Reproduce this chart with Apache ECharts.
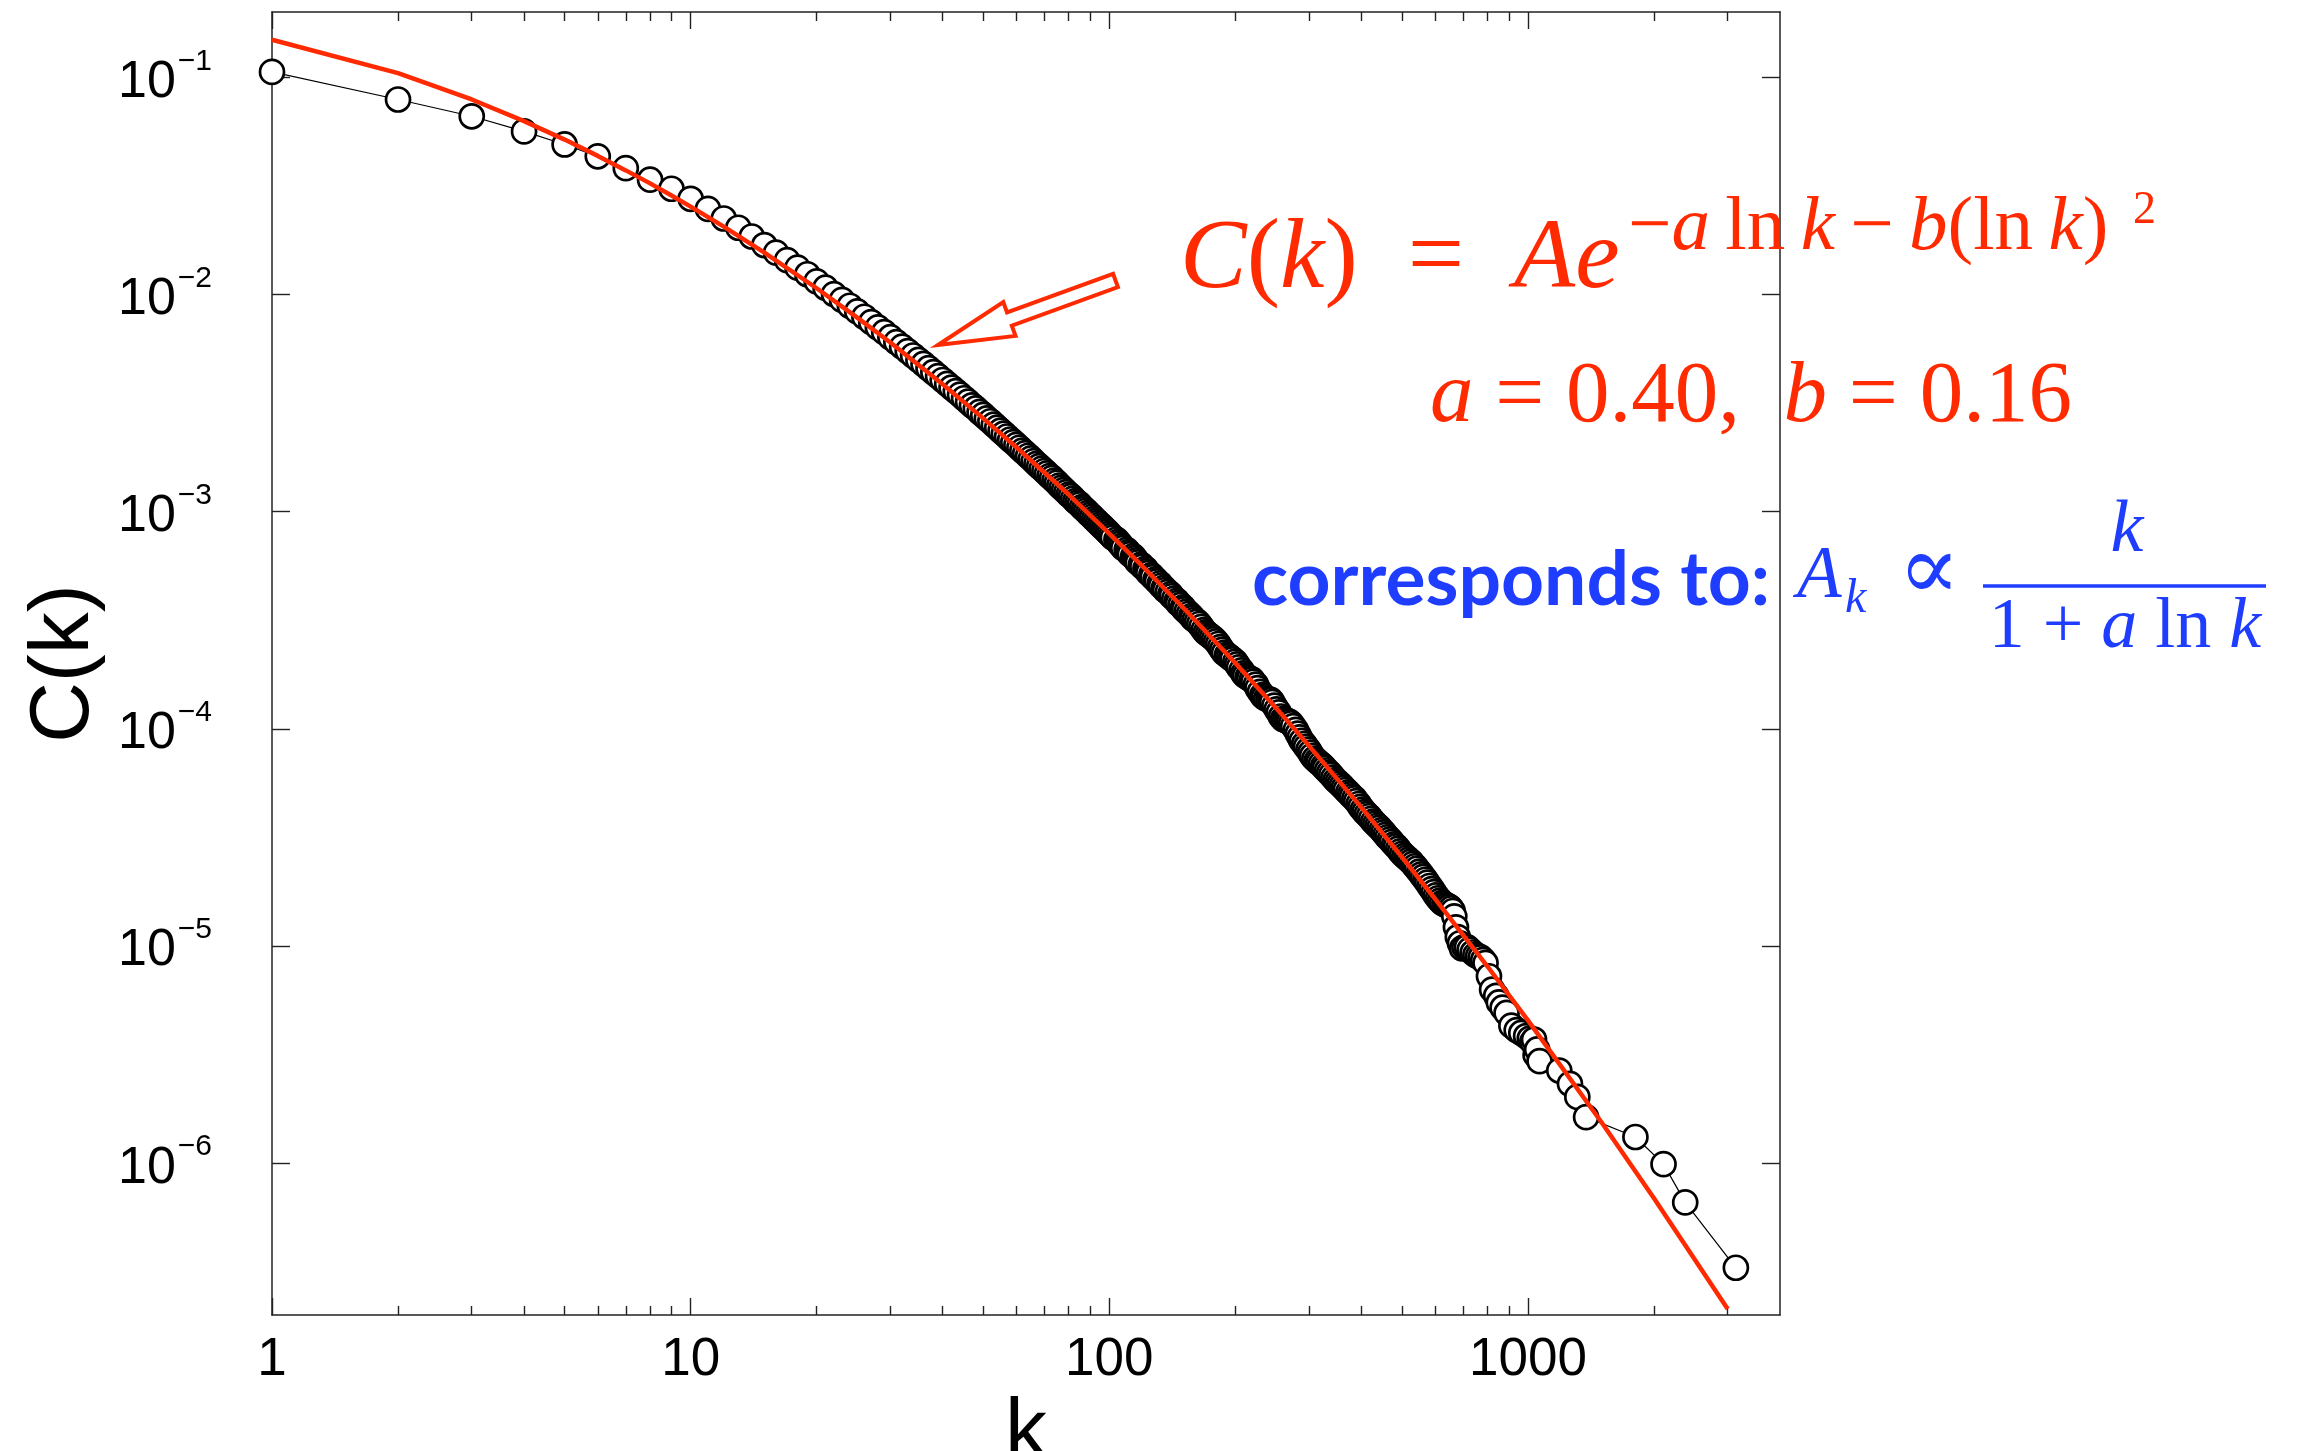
<!DOCTYPE html>
<html>
<head>
<meta charset="utf-8">
<script src="https://cdn.jsdelivr.net/npm/echarts@6.0.0/dist/echarts.min.js"></script>
<style>
  html, body { margin: 0; padding: 0; background: #fff; }
  #chart { width: 2304px; height: 1451px; }
</style>
</head>
<body>
<div id="chart"></div>
<script>
// Clustering coefficient C(k) vs degree k, log-log, with the
// log-normal-ish fit C(k) = A exp(-a ln k - b (ln k)^2) drawn in red.

// --- measured points (open circles) ---------------------------------
// k = 1..100, every degree
const kLow = [1,2,3,4,5,6,7,8,9,10,11,12,13,14,15,16,17,18,19,20,
  21,22,23,24,25,26,27,28,29,30,31,32,33,34,35,36,37,38,39,40,
  41,42,43,44,45,46,47,48,49,50,51,52,53,54,55,56,57,58,59,60,
  61,62,63,64,65,66,67,68,69,70,71,72,73,74,75,76,77,78,79,80,
  81,82,83,84,85,86,87,88,89,90,91,92,93,94,95,96,97,98,99,100];
const cLow = [0.106,0.0791,0.0662,0.0564,0.0491,0.0433,0.0382,0.0338,0.0307,0.0276,
  0.0248,0.0224,0.0203,0.0185,0.0169,0.0156,0.0144,0.0133,0.0124,0.0115,
  0.01075,0.01005,0.00945,0.00888,0.00836,0.0079,0.00746,0.00706,0.00671,0.00636,
  0.00604,0.00576,0.00549,0.00524,0.005,0.00479,0.00458,0.00439,0.00421,0.00404,
  0.00388,0.00373,0.00359,0.00346,0.00333,0.00321,0.00309,0.00299,0.00288,0.00279,
  0.00269,0.00261,0.00252,0.00244,0.00236,0.00229,0.00222,0.00215,0.00209,0.00203,
  0.00197,0.00191,0.00186,0.00181,0.00176,0.00171,0.00166,0.00162,0.00158,0.00154,
  0.0015,0.00146,0.00143,0.00139,0.00136,0.00132,0.00129,0.00126,0.00123,0.0012,
  0.00118,0.00115,0.00112,0.0011,0.00108,0.00105,0.00103,0.00101,0.000987,0.000967,
  0.000948,0.000927,0.000908,0.000891,0.000873,0.000857,0.00084,0.000824,0.000809,0.000793];

// k = 100..600, the dense black band
const kMid = [101,102,104,105,106,107,108,110,111,112,114,115,116,117,119,120,122,123,124,126,
  127,129,130,132,133,135,136,138,140,141,143,145,146,148,150,151,153,155,157,158,
  160,162,164,166,168,170,172,174,176,178,180,182,184,186,188,191,193,195,197,200,
  202,204,207,209,211,214,216,219,221,224,226,229,232,234,237,240,243,245,248,251,
  254,257,260,263,266,269,272,275,279,282,285,288,292,295,299,302,305,309,313,316,
  320,324,327,331,335,339,343,347,351,355,359,363,367,372,376,380,385,389,394,398,
  403,407,412,417,422,427,432,437,442,447,452,457,462,468,473,479,484,490,495,501,
  507,513,519,525,531,537,543,550,556,562,569,575,582,589,596,603];
const cMid = [0.000776,0.00076,0.000743,0.000727,0.000712,0.000696,0.000681,0.000667,0.000652,0.000638,
  0.000624,0.000611,0.000597,0.000584,0.000571,0.000559,0.000546,0.000534,0.000523,0.000511,
  0.0005,0.000488,0.000478,0.000467,0.000456,0.000446,0.000436,0.000427,0.000417,0.000408,
  0.000398,0.000389,0.00038,0.000372,0.000363,0.000355,0.000347,0.000339,0.000331,0.000324,
  0.000318,0.000312,0.000304,0.000295,0.000285,0.000278,0.000273,0.000268,0.000264,0.000259,
  0.000253,0.000246,0.000238,0.000231,0.000224,0.000219,0.000216,0.000212,0.000209,0.000204,
  0.000198,0.000192,0.000186,0.00018,0.000176,0.000173,0.000171,0.000169,0.000165,0.00016,
  0.000154,0.000148,0.000143,0.00014,0.000138,0.000137,0.000136,0.000133,0.000128,0.000123,
  0.000119,0.000114,0.000111,0.00011,0.000109,0.000108,0.000106,0.000103,9.9e-5,9.5e-5,
  9.14e-5,8.8e-5,8.52e-5,8.27e-5,8.02e-5,7.77e-5,7.52e-5,7.29e-5,7.14e-5,7.01e-5,
  6.88e-5,6.73e-5,6.59e-5,6.43e-5,6.28e-5,6.14e-5,5.96e-5,5.81e-5,5.7e-5,5.59e-5,
  5.47e-5,5.35e-5,5.23e-5,5.1e-5,4.99e-5,4.88e-5,4.78e-5,4.65e-5,4.51e-5,4.37e-5,
  4.25e-5,4.14e-5,4.05e-5,3.96e-5,3.85e-5,3.74e-5,3.66e-5,3.58e-5,3.51e-5,3.42e-5,
  3.34e-5,3.25e-5,3.17e-5,3.1e-5,3.02e-5,2.94e-5,2.88e-5,2.81e-5,2.73e-5,2.66e-5,
  2.6e-5,2.55e-5,2.5e-5,2.45e-5,2.39e-5,2.33e-5,2.27e-5,2.2e-5,2.14e-5,2.08e-5,
  2.02e-5,1.96e-5,1.89e-5,1.83e-5,1.77e-5,1.71e-5];

// k > 600, scattered tail
const kTail = [610,617,624,632,640,648,655,661,667,673,680,688,696,705,715,726,738,749,760,771,
  782,792,807,821,840,852,870,889,913,940,964,990,1010,1024,1034,1043,1052,1066,
  1188,1260,1312,1377,1806,2108,2375,3138];
const cTail = [1.66e-5,1.62e-5,1.58e-5,1.56e-5,1.54e-5,1.52e-5,1.49e-5,1.45e-5,1.37e-5,1.22e-5,
  1.1e-5,1.03e-5,9.75e-6,9.89e-6,9.89e-6,9.63e-6,9.34e-6,9.11e-6,8.99e-6,8.86e-6,
  8.63e-6,8.36e-6,7.26e-6,6.3e-6,5.9e-6,5.5e-6,5.2e-6,4.92e-6,4.3e-6,4.1e-6,
  3.98e-6,3.85e-6,3.75e-6,3.62e-6,3.71e-6,3.15e-6,3.34e-6,2.95e-6,
  2.67e-6,2.32e-6,2.02e-6,1.63e-6,1.32e-6,9.9e-7,6.6e-7,3.3e-7];

// --- fit curve (red) -------------------------------------------------
const kFit = [1,2,3,4,5,6,7,8,9,10,12,15,20,25,30,40,50,60,80,100,
  120,150,200,250,300,400,500,600,800,1000,1500,2000,3000];
const cFit = [0.149,0.1046,0.0791,0.0629,0.0517,0.0435,0.0373,0.0325,0.0286,0.0254,
  0.02054,0.0156,0.01069,0.00783,0.00601,0.00386,0.00269,0.00198,0.0012,0.000793,
  0.000561,0.000362,0.000201,0.000125,8.35e-5,4.35e-5,2.57e-5,1.65e-5,8.07e-6,4.55e-6,
  1.54e-6,6.89e-7,2.13e-7];

// --- ticks -----------------------------------------------------------
const xMajor = [1, 10, 100, 1000];
const xMinor = [2,3,4,5,6,7,8,9,20,30,40,50,60,70,80,90,200,300,400,500,600,700,800,900,2000,3000];
const yMajor = [1e-1, 1e-2, 1e-3, 1e-4, 1e-5, 1e-6];

const RED = '#ff2a00';
const BLUE = '#1f3dff';
const SANS = '"Liberation Sans", Arial, sans-serif';
const SERIF = '"Liberation Serif", "DejaVu Serif", serif';
const AXIS = '#222';

const zip = (ks, cs) => ks.map((k, i) => [k, cs[i]]);
const circles = zip(kLow, cLow).concat(zip(kMid, cMid), zip(kTail, cTail));
const fit = zip(kFit, cFit);

const logX = { type: 'log', logBase: 10, min: 1, max: 4000, splitLine: { show: false } };
const logY = { type: 'log', logBase: 10, min: 2e-7, max: 0.2, splitLine: { show: false } };
const tickStyle = { color: AXIS, width: 1.4 };
const lineStyle = { color: AXIS, width: 1.5 };

// text positioned by its baseline
function mtext(x, base, size, color, text, align, family, weight) {
  const fam = family || SERIF;
  const w = weight ? weight + ' ' : '';
  return {
    type: 'text', x: x, y: base - 0.34 * size, z: 100, silent: true,
    style: {
      text: text, fill: color, align: align || 'left', verticalAlign: 'middle',
      textAlign: align || 'left', textVerticalAlign: 'middle',
      font: w + size + 'px ' + fam,
      rich: {
        i: { font: 'italic ' + size + 'px ' + fam, fill: color },
        r: { font: size + 'px ' + fam, fill: color }
      }
    }
  };
}

const chart = echarts.init(document.getElementById('chart'));
chart.setOption({
  backgroundColor: '#fff',
  animation: false,
  textStyle: { fontFamily: SANS },
  grid: { left: 272, right: 524, top: 12, bottom: 136, containLabel: false, outerBoundsMode: 'none' },
  xAxis: [
    Object.assign({}, logX, {
      position: 'bottom',
      name: 'k', nameLocation: 'middle', nameGap: 62,
      nameTextStyle: { fontSize: 84, fontFamily: SANS, color: '#000' },
      axisLine: { show: true, onZero: false, lineStyle: lineStyle },
      axisTick: { show: true, inside: true, length: 17, customValues: xMajor, lineStyle: tickStyle },
      axisLabel: { show: true, customValues: xMajor, margin: 19, fontSize: 53, fontFamily: SANS, color: '#000',
        formatter: v => String(v) }
    }),
    Object.assign({}, logX, {
      position: 'bottom',
      axisLine: { show: false },
      axisTick: { show: true, inside: true, length: 9, customValues: xMinor, lineStyle: tickStyle },
      axisLabel: { show: false }
    }),
    Object.assign({}, logX, {
      position: 'top',
      axisLine: { show: true, onZero: false, lineStyle: lineStyle },
      axisTick: { show: true, inside: true, length: 17, customValues: xMajor, lineStyle: tickStyle },
      axisLabel: { show: false }
    }),
    Object.assign({}, logX, {
      position: 'top',
      axisLine: { show: false },
      axisTick: { show: true, inside: true, length: 9, customValues: xMinor, lineStyle: tickStyle },
      axisLabel: { show: false }
    })
  ],
  yAxis: [
    Object.assign({}, logY, {
      position: 'left',
      name: 'C(k)', nameLocation: 'middle', nameGap: 165,
      nameTextStyle: { fontSize: 84, fontFamily: SANS, color: '#000' },
      axisLine: { show: true, onZero: false, lineStyle: lineStyle },
      axisTick: { show: true, inside: true, length: 18, customValues: yMajor, lineStyle: tickStyle },
      axisLabel: {
        show: true, customValues: yMajor, margin: 60,
        formatter: function (v) {
          const e = Math.round(Math.log10(v));
          return '{b|10}{e|\u2212' + Math.abs(e) + '}';
        },
        rich: {
          b: { fontSize: 52, fontFamily: SANS, color: '#000', lineHeight: 62, verticalAlign: 'bottom' },
          e: { fontSize: 30, fontFamily: SANS, color: '#000', lineHeight: 16, verticalAlign: 'top', padding: [0, 0, 0, 2] }
        }
      }
    }),
    Object.assign({}, logY, {
      position: 'right',
      axisLine: { show: true, onZero: false, lineStyle: lineStyle },
      axisTick: { show: true, inside: true, length: 18, customValues: yMajor, lineStyle: tickStyle },
      axisLabel: { show: false }
    })
  ],
  series: [
    {
      name: 'data', type: 'line', data: circles, z: 2, silent: true,
      symbol: 'circle', symbolSize: 24, showSymbol: true, showAllSymbol: true,
      itemStyle: { color: '#fff', borderColor: '#000', borderWidth: 2.7 },
      lineStyle: { color: '#000', width: 1.2 },
      emphasis: { disabled: true }
    },
    {
      name: 'fit', type: 'line', data: fit, z: 4, silent: true,
      symbol: 'none',
      lineStyle: { color: RED, width: 4.5 },
      emphasis: { disabled: true }
    }
  ],
  graphic: [
    // hollow arrow pointing at the curve
    {
      type: 'polygon', z: 100, silent: true,
      shape: { points: [[938, 345], [1003.3, 302.1], [1007.0, 312.4], [1113.1, 273.9],
                        [1117.9, 287.1], [1011.8, 325.6], [1015.5, 335.9]] },
      style: { fill: 'none', stroke: RED, lineWidth: 4, lineJoin: 'miter' }
    },
    // C(k) = A e^{-a ln k - b (ln k)^2}
    mtext(1180, 295, 100, RED, '{i|C}{r|(}{i|k}{r|)\u2002=\u2002}{i|Ae}'),
    mtext(1628, 255, 77, RED, '{r|\u2212}{i|a}{r|\u2009ln\u2009}{i|k}{r|\u2009\u2212\u2009}{i|b}{r|(ln\u2009}{i|k}{r|)}'),
    mtext(2133, 227, 46, RED, '{r|2}'),
    // a = 0.40, b = 0.16
    mtext(1430, 428, 87, RED, '{i|a}{r| = 0.40,  }{i|b}{r| = 0.16}'),
    // corresponds to: A_k ∝ k / (1 + a ln k)
    mtext(1252, 606, 75, BLUE, 'corresponds to:', 'left', 'Lato, "Open Sans", sans-serif', 'bold'),
    mtext(1797, 603, 73, BLUE, '{i|A}'),
    mtext(1845, 616, 48, BLUE, '{i|k}'),
    mtext(1898, 606, 92, BLUE, '{r|\u221D}'),
    {
      type: 'line', z: 100, silent: true,
      shape: { x1: 1983, y1: 586, x2: 2266, y2: 586 },
      style: { stroke: BLUE, lineWidth: 3.4 }
    },
    mtext(2127, 557, 74, BLUE, '{i|k}', 'center'),
    mtext(2125, 653, 72, BLUE, '{r|1 + }{i|a}{r| ln }{i|k}', 'center')
  ]
});
</script>
</body>
</html>
